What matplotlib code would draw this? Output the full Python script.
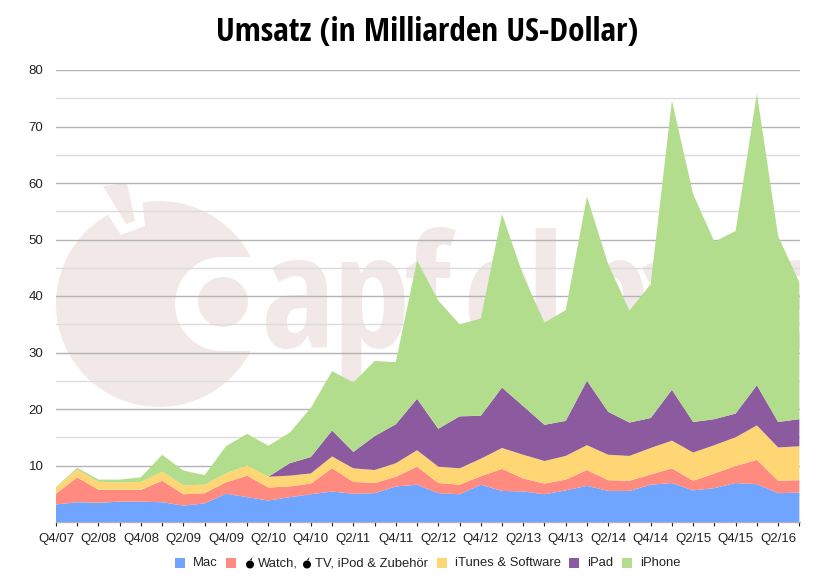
import matplotlib
matplotlib.use("Agg")
import numpy as np
import matplotlib.pyplot as plt
from matplotlib.patches import Circle, Polygon, Rectangle

quarters = ["Q4/07", "Q1/08", "Q2/08", "Q3/08", "Q4/08", "Q1/09", "Q2/09", "Q3/09", "Q4/09",
            "Q1/10", "Q2/10", "Q3/10", "Q4/10", "Q1/11", "Q2/11", "Q3/11", "Q4/11", "Q1/12",
            "Q2/12", "Q3/12", "Q4/12", "Q1/13", "Q2/13", "Q3/13", "Q4/13", "Q1/14", "Q2/14",
            "Q3/14", "Q4/14", "Q1/15", "Q2/15", "Q3/15", "Q4/15", "Q1/16", "Q2/16", "Q3/16"]

mac = [3.1, 3.5, 3.4, 3.6, 3.6, 3.5, 2.9, 3.3, 5.0, 4.4, 3.8, 4.4, 4.9, 5.4, 5.0, 5.1, 6.3, 6.6,
       5.1, 4.9, 6.6, 5.5, 5.4, 4.9, 5.6, 6.4, 5.5, 5.5, 6.6, 6.9, 5.6, 6.0, 6.9, 6.7, 5.1, 5.2]
zubehoer = [1.9, 4.4, 2.3, 2.1, 2.1, 3.8, 2.0, 1.8, 2.0, 3.8, 2.3, 1.9, 1.9, 4.1, 2.1, 1.8, 1.7, 3.2,
            1.8, 1.7, 1.5, 3.9, 2.3, 1.9, 1.9, 2.8, 1.9, 1.8, 1.8, 2.6, 1.7, 2.6, 3.0, 4.3, 2.2, 2.2]
itunes = [1.1, 1.4, 1.4, 1.3, 1.4, 1.6, 1.6, 1.5, 1.6, 1.8, 1.9, 1.9, 1.8, 2.1, 2.4, 2.3, 2.4, 2.9,
          2.9, 2.9, 3.1, 3.7, 4.2, 4.0, 4.2, 4.4, 4.5, 4.4, 4.7, 4.9, 5.0, 5.0, 5.1, 6.1, 5.9, 6.0]
ipad = [0, 0, 0, 0, 0, 0, 0, 0, 0, 0, 0, 2.2, 2.9, 4.6, 2.9, 6.0, 6.9, 9.1,
        6.7, 9.2, 7.6, 10.7, 8.6, 6.4, 6.2, 11.4, 7.6, 5.9, 5.3, 9.0, 5.4, 4.6, 4.2, 7.1, 4.5, 4.8]
iphone = [0.1, 0.3, 0.4, 0.5, 0.8, 3.0, 2.6, 1.7, 4.8, 5.6, 5.5, 5.4, 8.7, 10.5, 12.3, 13.3, 11.0, 24.5,
          22.7, 16.3, 17.2, 30.7, 23.1, 18.1, 19.6, 32.6, 26.1, 19.8, 23.7, 51.2, 40.3, 31.4, 32.3, 51.7, 32.9, 24.2]

colors = ["#70a5ff", "#ff8a80", "#ffd674", "#8c5a9e", "#b2dd8c"]

W, H = 829, 578
plt.rcParams["font.family"] = ["Liberation Sans", "DejaVu Sans"]
fig = plt.figure(figsize=(W / 100, H / 100), dpi=100)

# axes placed in pixels: 56..800 wide, y=0 at 522, y=80 at 70
ax = fig.add_axes([56 / W, 1 - 522 / H, 744 / W, 452 / H])
ax.patch.set_alpha(0)
x = np.arange(len(quarters))
ax.stackplot(x, mac, zubehoer, itunes, ipad, iphone, colors=colors, zorder=3, linewidth=0)
ax.set_xlim(0, 35.03)
ax.set_ylim(0, 80)

ax.set_yticks(range(10, 90, 10))
ax.set_yticks(range(5, 80, 10), minor=True)
ax.tick_params(axis="y", which="both", length=0, labelsize=9.5, pad=9, labelcolor="#222222")
ax.grid(axis="y", which="major", color="#b4b4b4", linewidth=1.0, zorder=2)
ax.grid(axis="y", which="minor", color="#dcdcdc", linewidth=1.0, zorder=2)
ax.set_axisbelow(True)

ax.set_xticks(x)
ax.set_xticklabels([q if i % 2 == 0 else "" for i, q in enumerate(quarters)], fontsize=9.5)
ax.tick_params(axis="x", length=3, width=0.8, color="#222222", pad=5, labelcolor="#222222")
for spine in ["top", "left", "right"]:
    ax.spines[spine].set_visible(False)
ax.spines["bottom"].set_color("#b4b4b4")
ax.spines["bottom"].set_linewidth(1.0)

# watermark logo in pixel coordinates behind the chart, cut off at the plot's right edge
bg = fig.add_axes([0, 0, 800 / W, 1], zorder=-1)
bg.set_xlim(0, 800)
bg.set_ylim(H, 0)
bg.axis("off")
pink = "#f2e8e8"
bg.add_patch(Circle((159, 304), 103, color=pink, lw=0))
bg.add_patch(Polygon([[108, 215], [121, 235], [145, 226], [142, 195], [120, 195]], color="white", lw=0))
bg.add_patch(Polygon([[103, 186], [127, 183], [135, 221], [126, 224]], color=pink, lw=0, clip_on=False))
bg.add_patch(Circle((222, 304), 47, color="white", lw=0))
bg.add_patch(Rectangle((222, 257), 50, 94, color="white", lw=0))
bg.add_patch(Circle((223, 302), 25, color=pink, lw=0))
# letters are spaced wider than the font, so each one gets its own position
wm_letters = ["a", "p", "f", "e", "l", "p", "a", "g", "e"]
wm_x = [262, 332, 404, 462, 526, 572, 632, 696, 760]
for lx, letter in zip(wm_x, wm_letters):
    bg.text(lx, 347, letter, color=pink, fontsize=112, fontweight="bold", family="Open Sans Condensed",
            clip_on=True, va="baseline")

# legend along the bottom, apple signs are drawn beside the text
legend_labels = ["Mac", "Watch,", "TV, iPod & Zubehör", "iTunes & Software", "iPad", "iPhone"]
legend_text_x = [193, 258, 315, 455, 587, 640]
legend_boxes = [175, 226, 437, 569, 622]
leg = fig.add_axes([0, 0, 1, 1], zorder=5)
leg.set_xlim(0, W)
leg.set_ylim(H, 0)
leg.axis("off")
for bx, c in zip(legend_boxes, colors):
    leg.add_patch(Rectangle((bx, 558), 10, 10, color=c, lw=0))
for tx, label in zip(legend_text_x, legend_labels):
    leg.text(tx, 563.5, label, fontsize=9.4, color="#222222", ha="left", va="center")
for ax_x in [250, 307]:
    leg.add_patch(Circle((ax_x, 564.5), 4.0, color="black", lw=0))
    leg.add_patch(Polygon([[ax_x, 560], [ax_x + 2.5, 557], [ax_x + 1.5, 560.5]], color="black", lw=0))

fig.text(427 / W, 1 - 33 / H, "Umsatz (in Milliarden US-Dollar)", fontsize=24, fontweight="bold",
         family=["Open Sans Condensed", "DejaVu Sans"], ha="center", va="center", color="black")

fig.savefig("out.png", dpi=100)
